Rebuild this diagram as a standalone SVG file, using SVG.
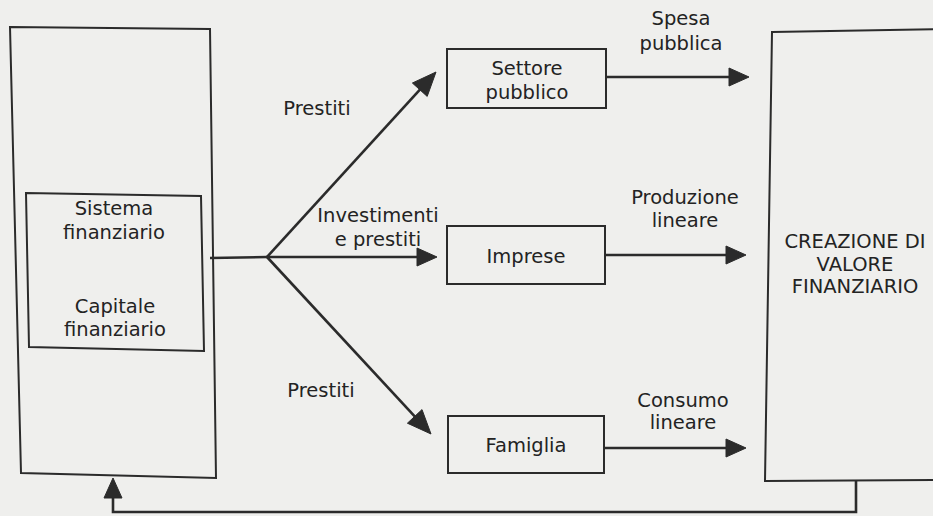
<svg xmlns="http://www.w3.org/2000/svg" width="933" height="516" viewBox="0 0 933 516">
  <style>
    .box { fill: none; stroke: #2b2b2b; stroke-width: 2; }
    .edge { fill: none; stroke: #2b2b2b; stroke-width: 2.6; }
    .head { fill: #2b2b2b; stroke: #2b2b2b; stroke-width: 1; stroke-linejoin: miter; }
    text { font-family: "DejaVu Sans", Verdana, sans-serif; font-size: 19.5px; fill: #232323; text-anchor: middle; }
  </style>

  <!-- paper -->
  <rect width="933" height="516" fill="#efefed"/>

  <!-- financial system (outer) -->
  <g id="sistema-esterno">
    <polygon class="box" points="10,27 210,29 216,478 21,473"/>
  </g>

  <!-- financial system / capital (inner) -->
  <g id="sistema-finanziario">
    <polygon class="box" points="26,193 201,196 204,351 29,347"/>
    <text x="114" y="215">Sistema</text>
    <text x="114" y="239">finanziario</text>
    <text x="115" y="313">Capitale</text>
    <text x="115" y="336">finanziario</text>
  </g>

  <g id="settore-pubblico">
    <rect class="box" x="447" y="49" width="159" height="59"/>
    <text x="527" y="75">Settore</text>
    <text x="527" y="99">pubblico</text>
  </g>

  <g id="imprese">
    <rect class="box" x="447" y="226" width="158" height="58"/>
    <text x="526" y="263">Imprese</text>
  </g>

  <g id="famiglia">
    <rect class="box" x="448" y="416" width="156" height="57"/>
    <text x="526" y="452">Famiglia</text>
  </g>

  <g id="creazione-valore">
    <polygon class="box" points="772,32 945,29 945,480 765,481"/>
    <text x="855" y="248">CREAZIONE DI</text>
    <text x="855" y="271">VALORE</text>
    <text x="855" y="293">FINANZIARIO</text>
  </g>

  <!-- connectors: shafts plus filled triangular heads -->
  <g id="connettori">
    <path class="edge" d="M210,258 L267,257"/>
    <path class="edge" d="M267,257 L427,257"/>
    <polygon class="head" points="437,257 417,248 417,266"/>

    <path class="edge" d="M267,257 L427.9,80.9"/>
    <polygon class="head" points="436,72 427.2,96.4 412.4,83"/>

    <path class="edge" d="M267,257 L422.8,425.2"/>
    <polygon class="head" points="431,434 407.4,423.2 422,409.6"/>

    <path class="edge" d="M606,77 L739,77"/>
    <polygon class="head" points="749,77 729,68 729,86"/>
    <path class="edge" d="M605,255 L736,255"/>
    <polygon class="head" points="746,255 726,246 726,264"/>
    <path class="edge" d="M604,448 L736,448"/>
    <polygon class="head" points="746,448 726,439 726,457"/>

    <path class="edge" d="M856,481 L856,512 L113,512 L113,488"/>
    <polygon class="head" points="113,478 104,498 122,498"/>
  </g>

  <!-- connector labels -->
  <g id="etichette">
    <text x="317" y="115">Prestiti</text>
    <text x="378" y="222">Investimenti</text>
    <text x="378" y="246">e prestiti</text>
    <text x="321" y="397">Prestiti</text>
    <text x="681" y="25">Spesa</text>
    <text x="681" y="50">pubblica</text>
    <text x="685" y="204">Produzione</text>
    <text x="685" y="227">lineare</text>
    <text x="683" y="407">Consumo</text>
    <text x="683" y="429">lineare</text>
  </g>
</svg>
